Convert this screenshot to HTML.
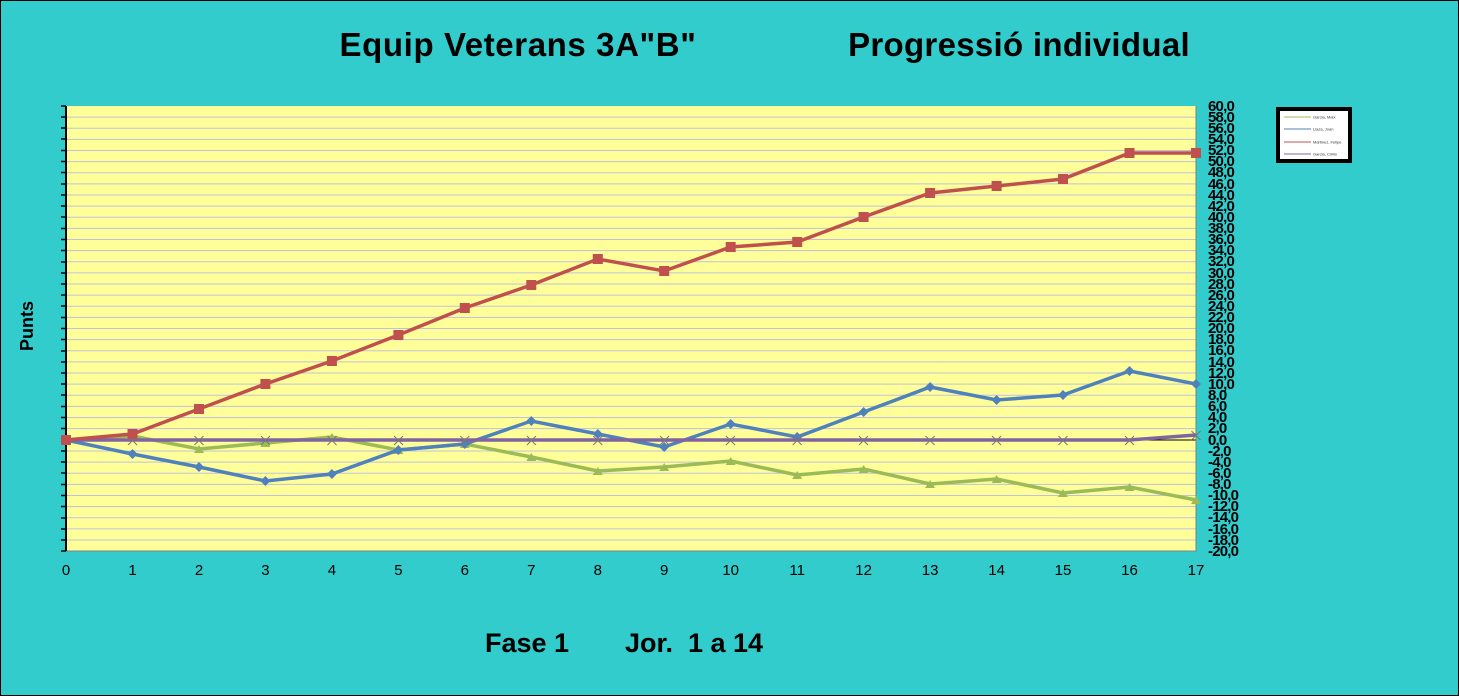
<!DOCTYPE html>
<html><head><meta charset="utf-8"><style>
body{margin:0;background:#33cccc;}
svg{display:block;font-family:"Liberation Sans",sans-serif;}
</style></head><body>
<svg width="1459" height="696" viewBox="0 0 1459 696">
<rect x="0.5" y="0.5" width="1458" height="695" fill="#33cccc" stroke="#000"/>
<text x="518" y="56" font-size="33" font-weight="bold" text-anchor="middle" letter-spacing="0.6">Equip Veterans 3A"B"</text>
<text x="1019" y="56" font-size="33" font-weight="bold" text-anchor="middle" letter-spacing="0.3">Progressió individual</text>
<text x="527" y="652" font-size="27" font-weight="bold" text-anchor="middle">Fase 1</text>
<text x="694" y="652" font-size="27" font-weight="bold" text-anchor="middle" xml:space="preserve">Jor.  1 a 14</text>
<text transform="translate(33,326) rotate(-90)" font-size="18" font-weight="bold" text-anchor="middle">Punts</text>
<rect x="66" y="106" width="1130" height="445" fill="#ffff99"/>
<g stroke="#c0c0dd" stroke-width="1">
<path d="M66 117.1H1196M66 128.25H1196M66 139.4H1196M66 150.5H1196M66 161.6H1196M66 172.75H1196M66 183.9H1196M66 195H1196M66 206.1H1196M66 217.25H1196M66 228.4H1196M66 239.5H1196M66 250.6H1196M66 261.75H1196M66 272.9H1196M66 284H1196M66 295.1H1196M66 306.25H1196M66 317.4H1196M66 328.5H1196M66 339.6H1196M66 350.75H1196M66 361.9H1196M66 373H1196M66 384.1H1196M66 395.25H1196M66 406.4H1196M66 417.5H1196M66 428.6H1196M66 451H1196M66 462.1H1196M66 473.25H1196M66 484.4H1196M66 495.5H1196M66 506.6H1196M66 517.75H1196M66 528.9H1196M66 540H1196"/>
</g>
<path d="M66 440H1196" stroke="#000" stroke-width="1"/>
<path d="M66 106V551H1196V106" fill="none" stroke="#808080"/>
<path d="M66 106V551" stroke="#000" stroke-width="2"/>
<path d="M61 106H66M61 117H66M61 128H66M61 139H66M61 150.5H66M61 161.5H66M61 172.5H66M61 184H66M61 195H66M61 206H66M61 217H66M61 228.5H66M61 239.5H66M61 250.5H66M61 262H66M61 273H66M61 284H66M61 295H66M61 306H66M61 317.5H66M61 328.5H66M61 339.5H66M61 351H66M61 362H66M61 373H66M61 384H66M61 395H66M61 406.5H66M61 417.5H66M61 428.5H66M61 440H66M61 451H66M61 462H66M61 473H66M61 484.5H66M61 495.5H66M61 506.5H66M61 518H66M61 529H66M61 540H66M61 551H66" stroke="#000" stroke-width="1.5"/>
<g font-size="15" text-anchor="middle">
<text x="66" y="575">0</text><text x="132.5" y="575">1</text><text x="199" y="575">2</text><text x="265.4" y="575">3</text><text x="331.9" y="575">4</text><text x="398.4" y="575">5</text><text x="464.8" y="575">6</text><text x="531.3" y="575">7</text><text x="597.8" y="575">8</text><text x="664.2" y="575">9</text><text x="730.7" y="575">10</text><text x="797.2" y="575">11</text><text x="863.6" y="575">12</text><text x="930.1" y="575">13</text><text x="996.6" y="575">14</text><text x="1063" y="575">15</text><text x="1129.5" y="575">16</text><text x="1196" y="575">17</text>
</g>
<g font-size="15" font-weight="bold" style="letter-spacing:-0.8px">
<text x="1208" y="111">60,0</text><text x="1208" y="122">58,0</text><text x="1208" y="133">56,0</text><text x="1208" y="144">54,0</text><text x="1208" y="155">52,0</text><text x="1208" y="166">50,0</text><text x="1208" y="177">48,0</text><text x="1208" y="189">46,0</text><text x="1208" y="200">44,0</text><text x="1208" y="211">42,0</text><text x="1208" y="222">40,0</text><text x="1208" y="233">38,0</text><text x="1208" y="244">36,0</text><text x="1208" y="255">34,0</text><text x="1208" y="266">32,0</text><text x="1208" y="278">30,0</text><text x="1208" y="289">28,0</text><text x="1208" y="300">26,0</text><text x="1208" y="311">24,0</text><text x="1208" y="322">22,0</text><text x="1208" y="333">20,0</text><text x="1208" y="344">18,0</text><text x="1208" y="355">16,0</text><text x="1208" y="367">14,0</text><text x="1208" y="378">12,0</text><text x="1208" y="389">10,0</text><text x="1208" y="400">8,0</text><text x="1208" y="411">6,0</text><text x="1208" y="422">4,0</text><text x="1208" y="433">2,0</text><text x="1208" y="445">0,0</text><text x="1208" y="456">-2,0</text><text x="1208" y="467">-4,0</text><text x="1208" y="478">-6,0</text><text x="1208" y="489">-8,0</text><text x="1208" y="500">-10,0</text><text x="1208" y="511">-12,0</text><text x="1208" y="522">-14,0</text><text x="1208" y="534">-16,0</text><text x="1208" y="545">-18,0</text><text x="1208" y="556">-20,0</text>
</g>
<polyline fill="none" stroke="#9bbb59" stroke-width="3.5" points="66,440 132.5,436 199,449 265.4,443 331.9,437 398.4,450 464.8,444 531.3,457 597.8,471 664.2,467 730.7,461 797.2,475 863.6,469 930.1,484 996.6,479 1063,493 1129.5,487 1196,500"/>
<g fill="#9bbb59"><path d="M132.5 432l5 8h-10zM199 445l5 8h-10zM265.4 439l5 8h-10zM331.9 433l5 8h-10zM398.4 446l5 8h-10zM464.8 440l5 8h-10zM531.3 453l5 8h-10zM597.8 467l5 8h-10zM664.2 463l5 8h-10zM730.7 457l5 8h-10zM797.2 471l5 8h-10zM863.6 465l5 8h-10zM930.1 480l5 8h-10zM996.6 475l5 8h-10zM1063 489l5 8h-10zM1129.5 483l5 8h-10zM1196 496l5 8h-10z"/></g>
<polyline fill="none" stroke="#4f81bd" stroke-width="3.5" points="66,440 132.5,454 199,467 265.4,481 331.9,474 398.4,450 464.8,444 531.3,421 597.8,434 664.2,447 730.7,424 797.2,437 863.6,412 930.1,387 996.6,400 1063,395 1129.5,371 1196,384"/>
<g fill="#4f81bd"><path d="M132.5 449l5 5-5 5-5-5zM199 462l5 5-5 5-5-5zM265.4 476l5 5-5 5-5-5zM331.9 469l5 5-5 5-5-5zM398.4 445l5 5-5 5-5-5zM464.8 439l5 5-5 5-5-5zM531.3 416l5 5-5 5-5-5zM597.8 429l5 5-5 5-5-5zM664.2 442l5 5-5 5-5-5zM730.7 419l5 5-5 5-5-5zM797.2 432l5 5-5 5-5-5zM863.6 407l5 5-5 5-5-5zM930.1 382l5 5-5 5-5-5zM996.6 395l5 5-5 5-5-5zM1063 390l5 5-5 5-5-5zM1129.5 366l5 5-5 5-5-5zM1196 379l5 5-5 5-5-5z"/></g>
<polyline fill="none" stroke="#8064a2" stroke-width="3.5" points="66,440 1129.5,440 1196,435"/>
<g stroke="#777" stroke-width="1"><path d="M128 436l9 9M137 436l-9 9M194.5 436l9 9M203.5 436l-9 9M261 436l9 9M270 436l-9 9M327.5 436l9 9M336.5 436l-9 9M394 436l9 9M403 436l-9 9M460.3 436l9 9M469.3 436l-9 9M527 436l9 9M536 436l-9 9M593.3 436l9 9M602.3 436l-9 9M660 436l9 9M669 436l-9 9M726 436l9 9M735 436l-9 9M792.7 436l9 9M801.7 436l-9 9M859 436l9 9M868 436l-9 9M925.6 436l9 9M934.6 436l-9 9M992 436l9 9M1001 436l-9 9M1058.5 436l9 9M1067.5 436l-9 9M1125 436l9 9M1134 436l-9 9M1191.5 431l9 9M1200.5 431l-9 9"/></g>
<polyline fill="none" stroke="#c0504d" stroke-width="3.5" points="66,440 132.5,434 199,409 265.4,384 331.9,361 398.4,335 464.8,308 531.3,285 597.8,259 664.2,271 730.7,247 797.2,242 863.6,217 930.1,193 996.6,186 1063,179 1129.5,153 1196,153"/>
<g fill="#c0504d"><rect x="61" y="435" width="10" height="10"/><rect x="127.5" y="429" width="10" height="10"/><rect x="194" y="404" width="10" height="10"/><rect x="260.4" y="379" width="10" height="10"/><rect x="326.9" y="356" width="10" height="10"/><rect x="393.4" y="330" width="10" height="10"/><rect x="459.8" y="303" width="10" height="10"/><rect x="526.3" y="280" width="10" height="10"/><rect x="592.8" y="254" width="10" height="10"/><rect x="659.2" y="266" width="10" height="10"/><rect x="725.7" y="242" width="10" height="10"/><rect x="792.2" y="237" width="10" height="10"/><rect x="858.6" y="212" width="10" height="10"/><rect x="925.1" y="188" width="10" height="10"/><rect x="991.6" y="181" width="10" height="10"/><rect x="1058" y="174" width="10" height="10"/><rect x="1124.5" y="148" width="10" height="10"/><rect x="1191" y="148" width="10" height="10"/></g>
<rect x="1278" y="109" width="72" height="52" fill="#fff" stroke="#000" stroke-width="4"/>
<g stroke-width="1"><path d="M1284 117H1311" stroke="#9bbb59"/><path d="M1284 129H1311" stroke="#4f81bd"/><path d="M1284 142H1311" stroke="#c0504d"/><path d="M1284 154H1311" stroke="#8064a2"/></g>
<g font-size="4" fill="#333"><text x="1313" y="118.5">Garcia, Maix</text><text x="1313" y="130.5">Llaza, Joan</text><text x="1313" y="143.5">Martinez, Felipe</text><text x="1313" y="155.5">Garcia, Cirilio</text></g>
</svg>
</body></html>
